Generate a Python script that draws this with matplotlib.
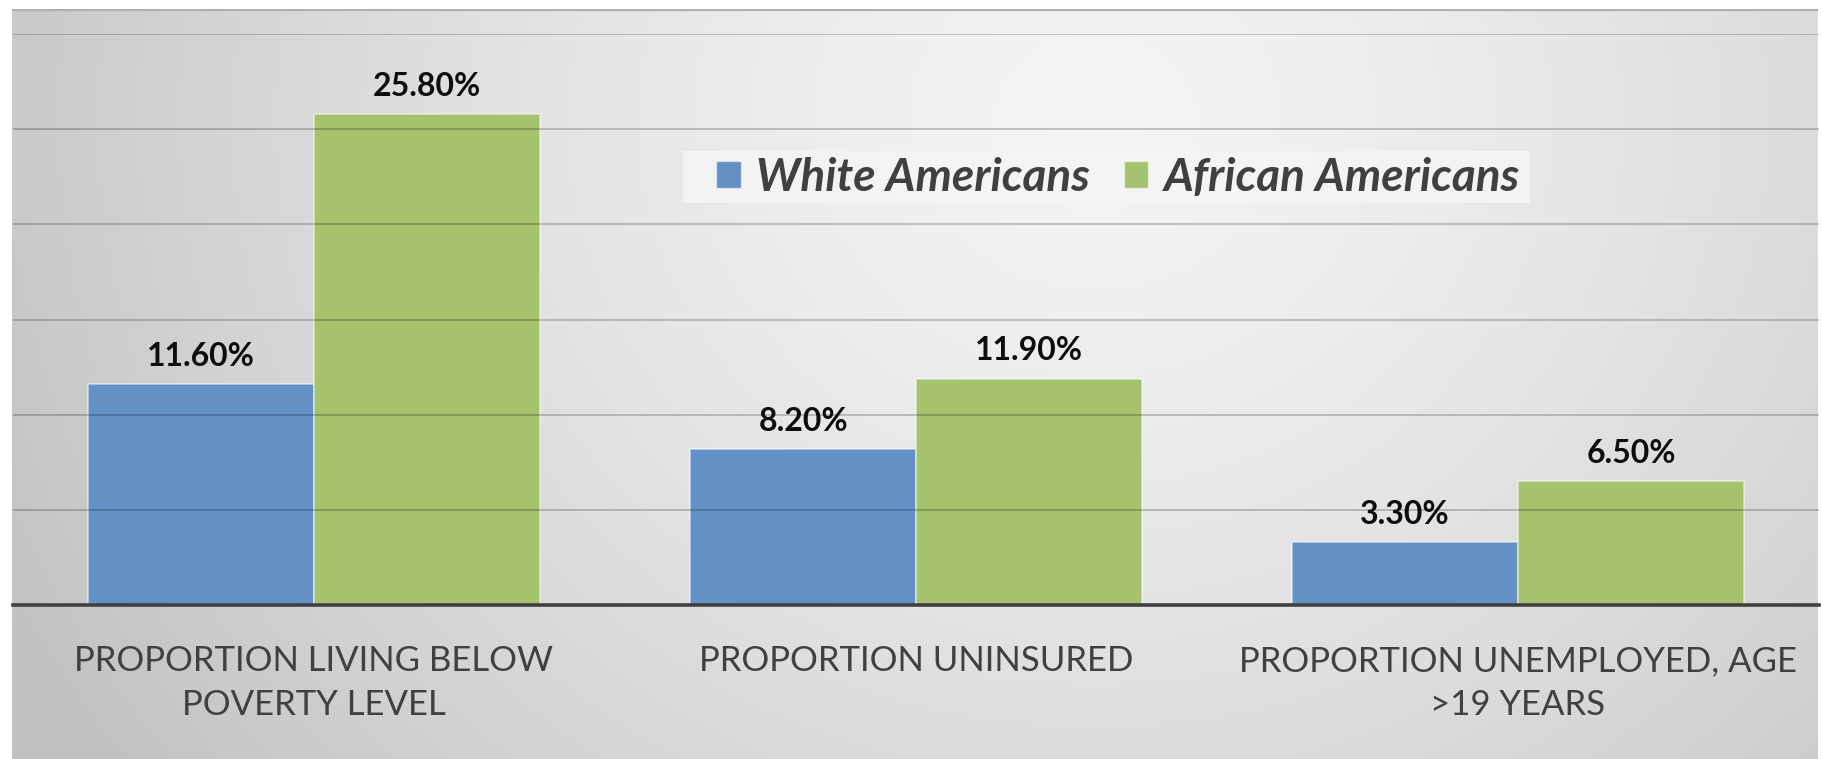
import numpy as np
import matplotlib
matplotlib.use("Agg")
import matplotlib.pyplot as plt
from matplotlib.patches import Patch, Rectangle

plt.rcParams['font.family'] = ['Lato', 'DejaVu Sans']

# ---- data ----
categories = ["PROPORTION LIVING BELOW\nPOVERTY LEVEL",
              "PROPORTION UNINSURED",
              "PROPORTION UNEMPLOYED, AGE\n>19 YEARS"]
white_americans = [11.6, 8.2, 3.3]
african_americans = [25.8, 11.9, 6.5]
series_names = ["White Americans", "African Americans"]
yticks = [0, 5, 10, 15, 20, 25, 30]

# ---- styles ----
BLUE = "#6391C5"
GREEN = "#A5C26D"
TXT = "#404040"

W, H = 1822, 759
fig = plt.figure(figsize=(W / 100, H / 100), dpi=100)
fig.patch.set_facecolor("white")

def fx(px):
    return px / W

def fy(py):
    return 1 - py / H

# background panel with gradient
ax_bg = fig.add_axes([fx(12), 0, fx(1818) - fx(12), fy(9)])
ny, nx = 300, 700
xx, yy = np.meshgrid(np.linspace(0, 1, nx), np.linspace(0, 1, ny))
d = np.sqrt(((xx - 0.6) / 0.6) ** 2 + ((yy - 0.15) / 1.3) ** 2)
val = np.clip(0.955 - 0.165 * d ** 1.4, 0.76, 0.96)
img = np.dstack([val, val, val])
ax_bg.imshow(img, aspect="auto", extent=[0, 1, 1, 0], interpolation="bilinear")
ax_bg.set_xlim(0, 1)
ax_bg.set_ylim(1, 0)
ax_bg.axis("off")
ax_bg.plot([0, 1], [0.0015, 0.0015], color="#b0b0b0", lw=1.6, solid_capstyle="butt")

# main axes
ax = fig.add_axes([fx(13), fy(605), (1819 - 13) / W, (605 - 34) / H])
ax.set_facecolor("none")
x = np.arange(len(categories))
bw = 0.375
b1 = ax.bar(x - bw / 2, white_americans, bw, color=BLUE, edgecolor=(1, 1, 1, 0.55),
            linewidth=1.2, zorder=2, label=series_names[0])
b2 = ax.bar(x + bw / 2, african_americans, bw, color=GREEN, edgecolor=(1, 1, 1, 0.55),
            linewidth=1.2, zorder=2, label=series_names[1])

for bars, vals in ((b1, white_americans), (b2, african_americans)):
    for rect, v in zip(bars, vals):
        ax.annotate(f"{v:.2f}%", (rect.get_x() + rect.get_width() / 2, v),
                    xytext=(0, 20), textcoords="offset points",
                    ha="center", va="center", fontsize=23, fontweight="bold",
                    color="#0d0d0d", zorder=5)

ax.set_xlim(-0.5, len(categories) - 0.5)
ax.set_ylim(0, 30)
ax.set_yticks(yticks)
ax.yaxis.set_tick_params(length=0, labelleft=False)
for t in yticks[1:]:
    ax.axhline(t, color="black", alpha=0.22, lw=1.3, zorder=3)
ax.axhline(0, color="#404040", lw=2.6, zorder=4, clip_on=False)
for s in ax.spines.values():
    s.set_visible(False)
ax.set_xticks(x)
ax.set_xticklabels(categories, fontsize=25, color=TXT, linespacing=1.46)
ax.tick_params(axis="x", length=0, pad=29)

# legend background box
fig.patches.append(Rectangle((fx(683), fy(203)), fx(1530) - fx(683), (203 - 151) / H,
                             transform=fig.transFigure, facecolor="#f5f5f5",
                             edgecolor="none", alpha=0.85, zorder=1))

handles = [Patch(facecolor=BLUE, edgecolor=(1, 1, 1, 0.5)),
           Patch(facecolor=GREEN, edgecolor=(1, 1, 1, 0.5))]
leg = fig.legend(handles, series_names, loc="center left",
                 bbox_to_anchor=(fx(716), fy(178)), ncol=2, frameon=False,
                 prop={"weight": "bold", "style": "italic", "size": 33},
                 handlelength=0.54, handleheight=0.54, handletextpad=0.33,
                 columnspacing=0.74, borderpad=0, borderaxespad=0)
for t in leg.get_texts():
    t.set_color(TXT)

fig.savefig("out.png", dpi=100, facecolor="white")
